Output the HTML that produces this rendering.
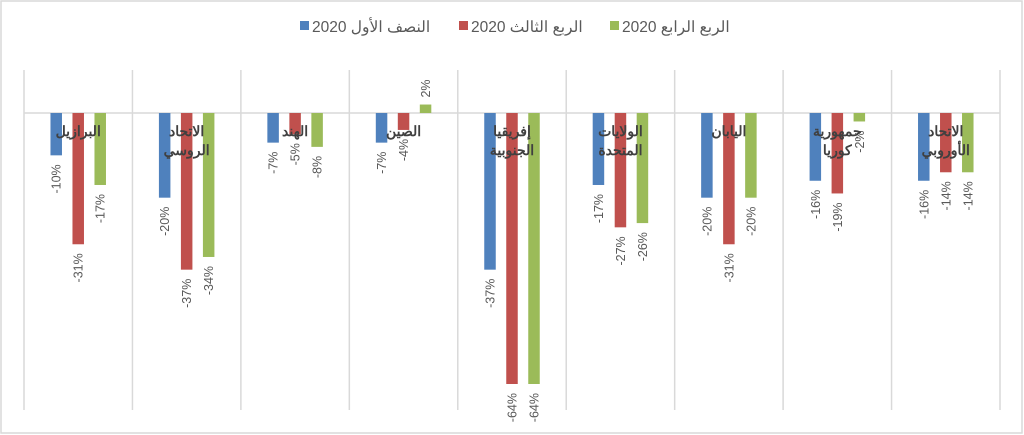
<!DOCTYPE html>
<html><head><meta charset="utf-8"><style>
body{margin:0;background:#fff}
svg{display:block;font-family:"Liberation Sans","Noto Sans CJK SC",sans-serif}
</style></head><body>
<svg id="chart" width="1024" height="435" viewBox="0 0 1024 435">
<rect x="1" y="1" width="1021" height="432" fill="#fff" stroke="#d9d9d9" stroke-width="1.5"/>
<g id="legend" font-size="15.5" fill="#595959"></g>
<g id="grid"></g>
<g id="bars"></g>
<g id="labels" font-size="12.5" fill="#595959"></g>
<g id="cats" font-size="14" font-weight="bold" fill="#404040" letter-spacing="1.5"></g>
</svg>
<script>
// categories from left to right (RTL axis)
const categories = [["البرازيل"],["الاتحاد","الروسي"],["الهند"],["الصين"],["إفريقيا","الجنوبية"],["الولايات","المتحدة"],["اليابان"],["جمهورية","كوريا"],["الاتحاد","الأوروبي"]];
const seriesNames = ["النصف الأول","الربع الثالث","الربع الرابع"];
const h1Values = [-10,-20,-7,-7,-37,-17,-20,-16,-16];
const q3Values = [-31,-37,-5,-4,-64,-27,-31,-19,-14];
const q4Values = [-17,-34,-8,2,-64,-26,-20,-2,-14];
const colors = ["#4f81bd","#c0504d","#9bbb59"];
const series = [h1Values,q3Values,q4Values];

const NS="http://www.w3.org/2000/svg";
const plotLeft=24,plotRight=1000,plotTop=70,plotBottom=410,zeroY=113,pxPer=271/64;
const band=(plotRight-plotLeft)/categories.length;
const xPos=i=>plotLeft+band*i+band/2;
const yPos=v=>zeroY-v*pxPer;
function mk(tag,attrs,parent){const e=document.createElementNS(NS,tag);for(const k in attrs)e.setAttribute(k,attrs[k]);parent.appendChild(e);return e;}
const grid=document.getElementById('grid');
for(let i=0;i<=categories.length;i++){
  const l=mk('line',{x1:plotLeft+band*i,x2:plotLeft+band*i,y1:plotTop,y2:plotBottom,stroke:'#d9d9d9','stroke-width':1.5},grid);
  
  
}
const zl=mk('line',{x1:plotLeft,x2:plotRight,y1:zeroY,y2:zeroY,stroke:'#d9d9d9','stroke-width':1.5},grid);


const bars=document.getElementById('bars'),labels=document.getElementById('labels'),cats=document.getElementById('cats');
const offs=[-22,0,22],bw=11.5;
series.forEach((vals,s)=>{
  vals.forEach((v,i)=>{
    const cx=xPos(i)+offs[s];
    const y0=Math.min(yPos(v),zeroY),hh=Math.abs(yPos(v)-zeroY);
    const r=mk('rect',{x:cx-bw/2,y:y0,width:bw,height:hh,fill:colors[s]},bars);
    
    
    const ly=v<0?yPos(v)+9:yPos(v)-7;
    const t=mk('text',{x:0,y:0,transform:`translate(${cx+4.5},${ly}) rotate(-90)`,'text-anchor':v<0?'end':'start'},labels);
    t.textContent=v+'%';
    
    
  });
});
categories.forEach((c,i)=>{
  c.forEach((line,j)=>{
    const t=mk('text',{x:xPos(i),y:136+j*19,'text-anchor':'middle'},cats);
    t.textContent=line;
    
    
  });
});
const legend=document.getElementById('legend');
const lx=[300,459,610];
seriesNames.forEach((n,s)=>{
  const r=mk('rect',{x:lx[s],y:21,width:9,height:9,fill:colors[s]},legend);
  
  
  const t=mk('text',{x:lx[s]+12,y:32},legend);
  
  
  const a=mk('tspan',{},t);a.textContent='2020 ';
  const b=mk('tspan',{},t);b.textContent=n;
});
</script>
</body></html>
